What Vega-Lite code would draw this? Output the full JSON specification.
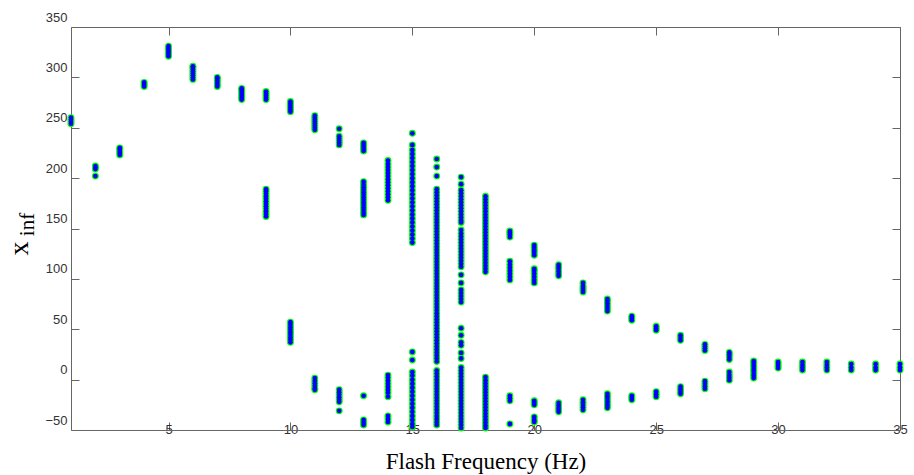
{
  "$schema": "https://vega.github.io/schema/vega-lite/v6.json",
  "width": 829,
  "height": 403,
  "autosize": "none",
  "padding": {"left": 71, "top": 27, "right": 14, "bottom": 45},
  "background": "white",
  "data": {"values": [
    {"f":1,"v":254},{"f":1,"v":256},{"f":1,"v":258},{"f":1,"v":260},
    {"f":2,"v":202},{"f":2,"v":209},{"f":2,"v":210.5},{"f":2,"v":212},
    {"f":3,"v":223},{"f":3,"v":225},{"f":3,"v":227},{"f":3,"v":229},{"f":3,"v":230},
    {"f":4,"v":291},{"f":4,"v":293},{"f":4,"v":295},
    {"f":5,"v":321},{"f":5,"v":323},{"f":5,"v":325},{"f":5,"v":327},{"f":5,"v":329},{"f":5,"v":331},
    {"f":6,"v":298},{"f":6,"v":300},{"f":6,"v":302},{"f":6,"v":304},{"f":6,"v":306},{"f":6,"v":308},{"f":6,"v":310},{"f":6,"v":311},
    {"f":7,"v":291},{"f":7,"v":293},{"f":7,"v":295},{"f":7,"v":297},{"f":7,"v":299},{"f":7,"v":300},
    {"f":8,"v":278},{"f":8,"v":280},{"f":8,"v":282},{"f":8,"v":284},{"f":8,"v":286},{"f":8,"v":288},{"f":8,"v":289},
    {"f":9,"v":278},{"f":9,"v":280},{"f":9,"v":282},{"f":9,"v":284},{"f":9,"v":286},
    {"f":9,"v":162},{"f":9,"v":164.5},{"f":9,"v":167},{"f":9,"v":169.5},{"f":9,"v":172},{"f":9,"v":174.5},{"f":9,"v":177},{"f":9,"v":179.5},{"f":9,"v":182},{"f":9,"v":184.5},{"f":9,"v":187},{"f":9,"v":189},
    {"f":10,"v":266},{"f":10,"v":268},{"f":10,"v":270},{"f":10,"v":272},{"f":10,"v":274},{"f":10,"v":276},
    {"f":10,"v":37},{"f":10,"v":39.5},{"f":10,"v":42},{"f":10,"v":44.5},{"f":10,"v":47},{"f":10,"v":49.5},{"f":10,"v":52},{"f":10,"v":54.5},{"f":10,"v":57},
    {"f":11,"v":248},{"f":11,"v":250},{"f":11,"v":252},{"f":11,"v":254},{"f":11,"v":256},{"f":11,"v":258},{"f":11,"v":260},{"f":11,"v":262},
    {"f":11,"v":1.5},{"f":11,"v":-1},{"f":11,"v":-3.5},{"f":11,"v":-6},{"f":11,"v":-8.5},{"f":11,"v":-10},
    {"f":12,"v":249},{"f":12,"v":233},{"f":12,"v":235},{"f":12,"v":237},{"f":12,"v":239},{"f":12,"v":241.5},
    {"f":12,"v":-10},{"f":12,"v":-12.5},{"f":12,"v":-15},{"f":12,"v":-17.5},{"f":12,"v":-20},{"f":12,"v":-22},{"f":12,"v":-31},
    {"f":13,"v":227},{"f":13,"v":229},{"f":13,"v":231},{"f":13,"v":233},{"f":13,"v":235},
    {"f":13,"v":163.5},{"f":13,"v":166},{"f":13,"v":168.5},{"f":13,"v":171},{"f":13,"v":173.5},{"f":13,"v":176},{"f":13,"v":178.5},{"f":13,"v":181},{"f":13,"v":183.5},{"f":13,"v":186},{"f":13,"v":188.5},{"f":13,"v":191},{"f":13,"v":193.5},{"f":13,"v":196.5},
    {"f":13,"v":-16},{"f":13,"v":-40},{"f":13,"v":-42.5},{"f":13,"v":-45},
    {"f":14,"v":178},{"f":14,"v":181},{"f":14,"v":184},{"f":14,"v":187},{"f":14,"v":190},{"f":14,"v":193},{"f":14,"v":196},{"f":14,"v":199},{"f":14,"v":202},{"f":14,"v":205},{"f":14,"v":208},{"f":14,"v":211},{"f":14,"v":214},{"f":14,"v":217.5},
    {"f":14,"v":4.5},{"f":14,"v":2},{"f":14,"v":-1},{"f":14,"v":-4},{"f":14,"v":-7},{"f":14,"v":-10},{"f":14,"v":-13},{"f":14,"v":-17},
    {"f":14,"v":-36},{"f":14,"v":-39},{"f":14,"v":-42},
    {"f":15,"v":244.5},{"f":15,"v":233},{"f":15,"v":228},{"f":15,"v":224},{"f":15,"v":220},{"f":15,"v":216},{"f":15,"v":212},{"f":15,"v":208},{"f":15,"v":204},{"f":15,"v":200},{"f":15,"v":196},{"f":15,"v":192},{"f":15,"v":188},{"f":15,"v":184},{"f":15,"v":180},{"f":15,"v":176},{"f":15,"v":172},{"f":15,"v":168},{"f":15,"v":164},{"f":15,"v":160},{"f":15,"v":156},{"f":15,"v":152},{"f":15,"v":148},{"f":15,"v":144},{"f":15,"v":140},{"f":15,"v":136},
    {"f":15,"v":27.5},{"f":15,"v":19.5},{"f":15,"v":7.5},{"f":15,"v":4},{"f":15,"v":0},{"f":15,"v":-4},{"f":15,"v":-8},{"f":15,"v":-12},{"f":15,"v":-16},{"f":15,"v":-20},{"f":15,"v":-24},{"f":15,"v":-28},{"f":15,"v":-32},{"f":15,"v":-36},{"f":15,"v":-40},{"f":15,"v":-44},{"f":15,"v":-47},
    {"f":16,"v":219},{"f":16,"v":211},{"f":16,"v":202},{"f":16,"v":189},{"f":16,"v":186},{"f":16,"v":183},{"f":16,"v":180},{"f":16,"v":177},{"f":16,"v":174},{"f":16,"v":171},{"f":16,"v":168},{"f":16,"v":165},{"f":16,"v":162},{"f":16,"v":159},{"f":16,"v":156},{"f":16,"v":153},{"f":16,"v":150},{"f":16,"v":147},{"f":16,"v":144},{"f":16,"v":141},{"f":16,"v":138},{"f":16,"v":135},{"f":16,"v":132},{"f":16,"v":129},{"f":16,"v":126},{"f":16,"v":123},{"f":16,"v":120},{"f":16,"v":117},{"f":16,"v":114},{"f":16,"v":111},{"f":16,"v":108},{"f":16,"v":105},{"f":16,"v":102},{"f":16,"v":99},{"f":16,"v":96},{"f":16,"v":93},{"f":16,"v":90},{"f":16,"v":87},{"f":16,"v":84},{"f":16,"v":81},{"f":16,"v":78},{"f":16,"v":75},{"f":16,"v":72},{"f":16,"v":69},{"f":16,"v":66},{"f":16,"v":63},{"f":16,"v":60},{"f":16,"v":57},{"f":16,"v":54},{"f":16,"v":51},{"f":16,"v":48},{"f":16,"v":45},{"f":16,"v":42},{"f":16,"v":39},{"f":16,"v":36},{"f":16,"v":33},{"f":16,"v":30},{"f":16,"v":27},{"f":16,"v":24},{"f":16,"v":21},{"f":16,"v":18},{"f":16,"v":9},{"f":16,"v":6},{"f":16,"v":3},{"f":16,"v":0},{"f":16,"v":-3},{"f":16,"v":-6},{"f":16,"v":-9},{"f":16,"v":-12},{"f":16,"v":-15},{"f":16,"v":-18},{"f":16,"v":-21},{"f":16,"v":-24},{"f":16,"v":-27},{"f":16,"v":-30},{"f":16,"v":-33},{"f":16,"v":-36},{"f":16,"v":-39},{"f":16,"v":-42},{"f":16,"v":-45},
    {"f":17,"v":201},{"f":17,"v":194},{"f":17,"v":188},{"f":17,"v":185},{"f":17,"v":182},{"f":17,"v":179},{"f":17,"v":176},{"f":17,"v":173},{"f":17,"v":170},{"f":17,"v":167},{"f":17,"v":164},{"f":17,"v":161},{"f":17,"v":158},{"f":17,"v":156},
    {"f":17,"v":148.5},{"f":17,"v":145},{"f":17,"v":142},{"f":17,"v":139},{"f":17,"v":136},{"f":17,"v":133},{"f":17,"v":130},{"f":17,"v":127},{"f":17,"v":124},{"f":17,"v":121},{"f":17,"v":118},{"f":17,"v":115},{"f":17,"v":112},
    {"f":17,"v":104},{"f":17,"v":96},{"f":17,"v":89},{"f":17,"v":86},{"f":17,"v":83},{"f":17,"v":80},{"f":17,"v":77},
    {"f":17,"v":51},{"f":17,"v":44},{"f":17,"v":37},{"f":17,"v":34},
    {"f":17,"v":26.5},{"f":17,"v":21},{"f":17,"v":12},{"f":17,"v":9},{"f":17,"v":6},{"f":17,"v":3},{"f":17,"v":0},{"f":17,"v":-3},{"f":17,"v":-6},{"f":17,"v":-9},{"f":17,"v":-12},{"f":17,"v":-15},{"f":17,"v":-18},{"f":17,"v":-21},{"f":17,"v":-24},{"f":17,"v":-27},{"f":17,"v":-30},{"f":17,"v":-33},{"f":17,"v":-36},{"f":17,"v":-39},{"f":17,"v":-42},{"f":17,"v":-45},{"f":17,"v":-48},
    {"f":18,"v":182},{"f":18,"v":179},{"f":18,"v":176},{"f":18,"v":173},{"f":18,"v":170},{"f":18,"v":167},{"f":18,"v":164},{"f":18,"v":161},{"f":18,"v":158},{"f":18,"v":155},{"f":18,"v":152},{"f":18,"v":149},{"f":18,"v":146},{"f":18,"v":143},{"f":18,"v":140},{"f":18,"v":137},{"f":18,"v":134},{"f":18,"v":131},{"f":18,"v":128},{"f":18,"v":125},{"f":18,"v":122},{"f":18,"v":119},{"f":18,"v":116},{"f":18,"v":113},{"f":18,"v":110},{"f":18,"v":107},
    {"f":18,"v":2.5},{"f":18,"v":-0.5},{"f":18,"v":-3.5},{"f":18,"v":-6.5},{"f":18,"v":-9.5},{"f":18,"v":-12.5},{"f":18,"v":-15.5},{"f":18,"v":-18.5},{"f":18,"v":-21.5},{"f":18,"v":-24.5},{"f":18,"v":-27.5},{"f":18,"v":-30.5},{"f":18,"v":-33.5},{"f":18,"v":-36.5},{"f":18,"v":-39.5},{"f":18,"v":-42.5},{"f":18,"v":-45.5},{"f":18,"v":-48},
    {"f":19,"v":141.5},{"f":19,"v":144},{"f":19,"v":146},{"f":19,"v":147.5},
    {"f":19,"v":99},{"f":19,"v":102},{"f":19,"v":105},{"f":19,"v":108},{"f":19,"v":111},{"f":19,"v":114},{"f":19,"v":117.5},
    {"f":19,"v":-16},{"f":19,"v":-18.5},{"f":19,"v":-21},{"f":19,"v":-44},
    {"f":20,"v":123.5},{"f":20,"v":126},{"f":20,"v":128.5},{"f":20,"v":131},{"f":20,"v":133.5},
    {"f":20,"v":96},{"f":20,"v":99},{"f":20,"v":102},{"f":20,"v":105},{"f":20,"v":108},{"f":20,"v":110},
    {"f":20,"v":-21},{"f":20,"v":-23},{"f":20,"v":-25},{"f":20,"v":-37},{"f":20,"v":-40},{"f":20,"v":-42},
    {"f":21,"v":103},{"f":21,"v":105},{"f":21,"v":107.5},{"f":21,"v":110},{"f":21,"v":112},{"f":21,"v":114},
    {"f":21,"v":-23},{"f":21,"v":-25.5},{"f":21,"v":-28},{"f":21,"v":-30},{"f":21,"v":-32},
    {"f":22,"v":87},{"f":22,"v":89},{"f":22,"v":91},{"f":22,"v":93},{"f":22,"v":96},
    {"f":22,"v":-20},{"f":22,"v":-22.5},{"f":22,"v":-25},{"f":22,"v":-27.5},{"f":22,"v":-30},
    {"f":23,"v":68},{"f":23,"v":70.5},{"f":23,"v":73},{"f":23,"v":75.5},{"f":23,"v":78},{"f":23,"v":80},
    {"f":23,"v":-14},{"f":23,"v":-16.5},{"f":23,"v":-19},{"f":23,"v":-21.5},{"f":23,"v":-24},{"f":23,"v":-26},{"f":23,"v":-28},
    {"f":24,"v":59},{"f":24,"v":61},{"f":24,"v":63},{"f":24,"v":-16},{"f":24,"v":-18},{"f":24,"v":-20},
    {"f":25,"v":49},{"f":25,"v":51},{"f":25,"v":53},{"f":25,"v":-12},{"f":25,"v":-14.5},{"f":25,"v":-17},
    {"f":26,"v":39},{"f":26,"v":41.5},{"f":26,"v":44},{"f":26,"v":-7},{"f":26,"v":-9.5},{"f":26,"v":-12},{"f":26,"v":-14},
    {"f":27,"v":29},{"f":27,"v":31},{"f":27,"v":33},{"f":27,"v":35},{"f":27,"v":-1.5},{"f":27,"v":-4},{"f":27,"v":-6.5},{"f":27,"v":-9},
    {"f":28,"v":20},{"f":28,"v":22.5},{"f":28,"v":25},{"f":28,"v":27},{"f":28,"v":-0.5},{"f":28,"v":2},{"f":28,"v":4.5},{"f":28,"v":7.5},
    {"f":29,"v":1.5},{"f":29,"v":4},{"f":29,"v":6.5},{"f":29,"v":9},{"f":29,"v":11.5},{"f":29,"v":14},{"f":29,"v":16.5},{"f":29,"v":18.5},
    {"f":30,"v":11.5},{"f":30,"v":13.5},{"f":30,"v":15.5},{"f":30,"v":17.5},
    {"f":31,"v":9.5},{"f":31,"v":12},{"f":31,"v":14.5},{"f":31,"v":17.5},
    {"f":32,"v":9.5},{"f":32,"v":12},{"f":32,"v":14.5},{"f":32,"v":17.5},
    {"f":33,"v":9.5},{"f":33,"v":12},{"f":33,"v":15.5},
    {"f":34,"v":9.5},{"f":34,"v":12},{"f":34,"v":15.5},
    {"f":35,"v":9.5},{"f":35,"v":12},{"f":35,"v":15.5}
  ]},
  "layer": [
    {
      "mark": {"type": "point", "opacity": 0},
      "encoding": {
        "x": {"field": "f", "type": "quantitative",
          "scale": {"domain": [1, 35], "nice": false, "zero": false},
          "axis": {"orient": "top", "values": [5,10,15,20,25,30,35], "labels": false, "tickSize": -8, "title": null,
            "domainColor": "#666666", "tickColor": "#666666", "grid": false}},
        "y": {"field": "v", "type": "quantitative",
          "scale": {"domain": [-50, 350], "nice": false, "zero": false},
          "axis": {"orient": "right", "values": [-50,0,50,100,150,200,250,300,350], "labels": false, "tickSize": -8,
            "domainColor": "#666666", "tickColor": "#666666", "grid": false,
            "title": "inf", "titleFont": "Liberation Serif", "titleFontSize": 21, "titleFontWeight": "normal", "titleColor": "#000000",
            "titleAngle": 270, "titleX": -867, "titleY": 197, "titleBaseline": "alphabetic", "titleAlign": "center"}}
      }
    },
    {
      "mark": {"type": "point", "filled": true, "shape": "circle", "size": 48, "fill": "#00ff00", "strokeWidth": 0, "opacity": 1},
      "encoding": {
        "x": {"field": "f", "type": "quantitative",
          "scale": {"domain": [1, 35], "nice": false, "zero": false},
          "axis": {"orient": "bottom", "values": [5,10,15,20,25,30,35], "tickSize": -8, "labelPadding": 1, "labelFlush": false, "labelOverlap": false,
            "labelFont": "Liberation Sans", "labelFontSize": 13, "labelColor": "#333333",
            "domainColor": "#666666", "tickColor": "#666666", "grid": false,
            "title": "Flash Frequency (Hz)", "titleFont": "Liberation Serif", "titleFontSize": 23, "titleFontWeight": "normal", "titleColor": "#000000",
            "titleY": 38, "titleBaseline": "alphabetic"}},
        "y": {"field": "v", "type": "quantitative",
          "scale": {"domain": [-50, 350], "nice": false, "zero": false},
          "axis": {"orient": "left", "values": [-50,0,50,100,150,200,250,300,350], "tickSize": -8, "labelPadding": 12, "labelOffset": -10, "labelOverlap": false,
            "labelFont": "Liberation Sans", "labelFontSize": 13, "labelColor": "#333333",
            "domainColor": "#666666", "tickColor": "#666666", "grid": false,
            "title": "x", "titleFont": "Liberation Serif", "titleFontSize": 28, "titleFontWeight": "normal", "titleColor": "#000000",
            "titleAngle": 270, "titleX": -44, "titleY": 221, "titleBaseline": "alphabetic", "titleAlign": "center"}}
      }
    },
    {
      "mark": {"type": "point", "filled": true, "shape": "circle", "size": 22, "fill": "#0000ff", "strokeWidth": 0, "opacity": 1},
      "encoding": {
        "x": {"field": "f", "type": "quantitative", "scale": {"domain": [1, 35], "nice": false, "zero": false}, "axis": null},
        "y": {"field": "v", "type": "quantitative", "scale": {"domain": [-50, 350], "nice": false, "zero": false}, "axis": null}
      }
    }
  ],
  "resolve": {"axis": {"x": "independent", "y": "independent"}},
  "config": {"view": {"stroke": null}}
}
